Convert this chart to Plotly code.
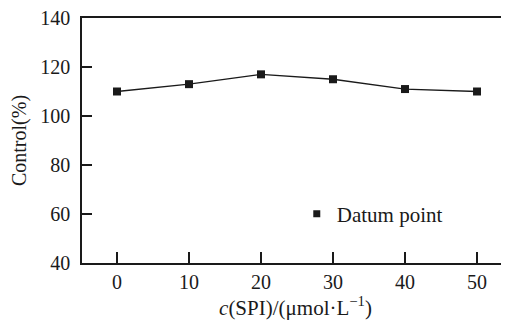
import plotly.graph_objects as go

conc = [0, 10, 20, 30, 40, 50]
control = [110, 113, 117, 115, 111, 110]
x_ticks = [0, 10, 20, 30, 40, 50]
y_ticks = [40, 60, 80, 100, 120, 140]

FONT = "Liberation Serif, Times New Roman, serif"

fig = go.Figure()
fig.add_trace(go.Scatter(
    x=conc, y=control, mode="lines+markers",
    line=dict(color="#1a1a1a", width=1.3),
    marker=dict(symbol="square", size=8, color="#1a1a1a"),
    showlegend=False,
))
fig.add_trace(go.Scatter(
    x=[None], y=[None], mode="markers", name="Datum point",
    marker=dict(symbol="square", size=7, color="#1a1a1a"),
    showlegend=True,
))

# the page body adds an 8px offset, so the figure is shifted to compensate
fig.update_layout(
    template="none",
    width=501, height=315,
    margin=dict(l=74, r=0, t=10, b=60, autoexpand=False),
    paper_bgcolor="white", plot_bgcolor="white",
    font=dict(family=FONT, size=20, color="#1a1a1a"),
    legend=dict(x=0.503, y=0.2, xanchor="left", yanchor="middle",
                bgcolor="rgba(0,0,0,0)", font=dict(size=21, family=FONT),
                itemwidth=30),
    xaxis=dict(
        automargin=False,
        range=[-4.86, 54.44], tickvals=x_ticks, ticktext=[str(v) for v in x_ticks],
        ticks="inside", ticklen=11, tickwidth=1.5, tickcolor="#1a1a1a",
        showline=True, linecolor="#1a1a1a", linewidth=1.5, mirror=True,
        showgrid=False, zeroline=False, ticklabelstandoff=0,
        ticklabeloverflow="allow",
        title=dict(text="<i>c</i>(SPI)/(μmol·L<sup>−1</sup>)", standoff=8,
                   font=dict(size=21, family=FONT)),
    ),
    yaxis=dict(
        automargin=False,
        range=[40, 140], tickvals=y_ticks, ticktext=[str(v) for v in y_ticks],
        ticks="inside", ticklen=10, tickwidth=1.5, tickcolor="#1a1a1a",
        showline=True, linecolor="#1a1a1a", linewidth=1.5,
        showgrid=False, zeroline=False, ticklabelstandoff=6,
        ticklabeloverflow="allow",
        title=dict(text="Control(%)", standoff=10,
                   font=dict(size=20, family=FONT)),
    ),
)

fig.write_html("out.html")
